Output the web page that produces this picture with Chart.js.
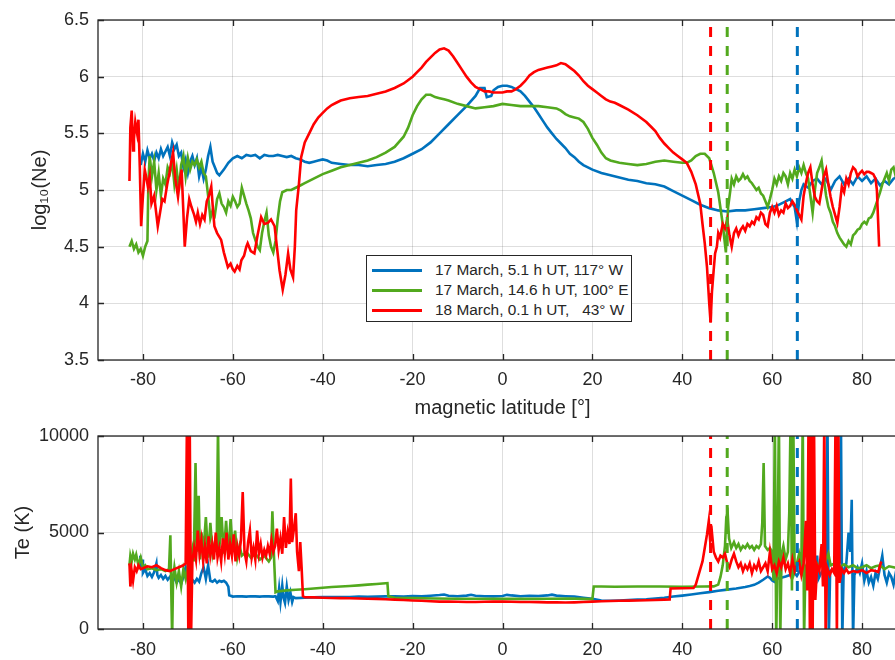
<!DOCTYPE html>
<html>
<head>
<meta charset="utf-8">
<script src="https://cdn.jsdelivr.net/npm/chart.js@4/dist/chart.umd.min.js"></script>
<style>
html,body{margin:0;padding:0;background:#fff;overflow:hidden;width:895px;height:660px;}
#wrap{position:relative;width:895px;height:660px;overflow:hidden;background:#fff;}
#c1{position:absolute;left:0;top:0;}
#c2{position:absolute;left:0;top:425px;}
#legend{position:absolute;left:366px;top:255px;width:264px;height:65px;border:1px solid #262626;background:#fff;
  font-family:"Liberation Sans",Arial,sans-serif;font-size:15.4px;color:#262626;}
#legend .row{position:absolute;left:0;height:20px;width:100%;}
#legend .sw{position:absolute;left:5px;top:9px;width:50px;height:3px;}
#legend .tx{position:absolute;left:68px;top:1px;white-space:pre;line-height:18px;}
</style>
</head>
<body>
<div id="wrap">
<canvas id="c1" width="920" height="425"></canvas>
<canvas id="c2" width="920" height="235"></canvas>
<div id="legend"></div>
</div>
<script>
// ---------- tick labels ----------
const xTicks = [-80, -60, -40, -20, 0, 20, 40, 60, 80];
const neTicks = [3.5, 4, 4.5, 5, 5.5, 6, 6.5];
const teTicks = [0, 5000, 10000];

// ---------- series names ----------
const seriesNames = ['17 March, 5.1 h UT, 117° W', '17 March, 14.6 h UT, 100° E', '18 March, 0.1 h UT,   43° W'];
// boundary latitudes (dashed lines): blue, green, red
const boundaryLat = [65.6, 50.0, 46.3];

// ---------- log10(Ne) : 17 March 5.1 h UT (blue) ----------
const latNeBlue = [-80.5,-80,-79.5,-79,-78.5,-78,-77.5,-77,-76.5,-76,-75.5,-75,-74.5,-74,-73.5,-73,-72.5,-72,-71.5,-71,-70.5,-70,-69.5,-69,-68.5,-68,-67.5,-67,-66.5,-66,-65.5,-65,-64.5,-64,-63.5,-63,-62,-61,-60,-59,-58,-57,-56,-55,-54,-53,-52,-51,-50,-49,-48,-47,-46,-45,-44,-43,-42,-41,-40,-39,-38,-36,-34,-32,-30,-28,-26,-24,-22,-20,-18,-16,-14,-12,-10,-8,-6,-5,-4,-3.5,-2.5,-2,-1,0,1,2,3,4,5,6,7,8,9,10,11,12,13,14,15,16,17,18,19,20,22,24,26,28,30,32,34,36,38,40,42,44,46,48,50,52,54,56,58,60,61,62,63,64,65,65.5,66,66.5,67,68,69,70,71,72,73,74,75,76,77,78,79,80,81,82,83,84,85,86,87,88];
const neBlue = [5.22,5.32,5.25,5.35,5.28,5.32,5.26,5.33,5.28,5.36,5.3,5.34,5.38,5.3,5.42,5.36,5.4,5.3,5.33,5.2,5.27,5.15,5.25,5.3,5.22,5.28,5.12,5.2,5.1,5.18,5.3,5.38,5.25,5.2,5.15,5.13,5.18,5.24,5.28,5.3,5.28,5.31,5.3,5.31,5.28,5.31,5.3,5.3,5.31,5.3,5.29,5.3,5.28,5.27,5.25,5.24,5.25,5.26,5.27,5.26,5.24,5.23,5.22,5.22,5.21,5.22,5.23,5.25,5.28,5.32,5.36,5.42,5.5,5.58,5.66,5.74,5.83,5.9,5.9,5.82,5.83,5.88,5.91,5.92,5.92,5.91,5.89,5.87,5.83,5.78,5.73,5.67,5.61,5.55,5.5,5.45,5.41,5.37,5.32,5.29,5.25,5.22,5.2,5.18,5.15,5.13,5.11,5.09,5.08,5.06,5.05,5.03,4.99,4.95,4.91,4.87,4.84,4.82,4.81,4.82,4.82,4.83,4.84,4.85,4.86,4.88,4.9,4.92,4.85,4.72,4.9,5.0,5.05,5.02,5.08,5.1,5.05,5.1,5.0,5.08,5.12,5.05,5.1,5.05,5.12,5.08,5.12,5.06,5.1,5.04,5.08,5.05,5.1,5.12];

// ---------- log10(Ne) : 17 March 14.6 h UT (green) ----------
const latNeGreen = [-83,-82.5,-82,-81.5,-81,-80.5,-80,-79.5,-79,-78.8,-78.5,-78,-77.5,-77,-76.5,-76,-75.5,-75,-74.5,-74,-73.5,-73,-72.5,-72,-71.5,-71,-70.5,-70,-69.5,-69,-68.5,-68,-67.5,-67,-66.5,-66,-65.5,-65,-64.5,-64,-63.5,-63,-62.5,-62,-61.5,-61,-60.5,-60,-59.5,-59,-58.5,-58,-57.5,-57,-56.5,-56,-55.5,-55,-54.5,-54,-53.5,-53,-52.5,-52,-51.5,-51,-50.5,-50,-49.5,-49,-48,-47,-46,-45,-44,-42,-40,-38,-36,-34,-32,-30,-28,-26,-24,-22,-21,-20,-19,-18,-17,-16,-15,-14,-13,-12,-10,-8,-6,-4,-2,0,2,4,6,8,10,12,13,14,15,16,17,18,19,20,21,22,23,24,26,28,30,32,34,36,38,40,41,42,43,44,45,46,47,48,49,49.7,50.2,50.7,51,51.5,52,52.5,53,53.5,54,54.5,55,55.5,56,56.5,57,57.5,58,58.5,59,59.5,60,60.5,61,61.5,62,62.5,63,63.5,64,64.5,65,65.5,66,66.5,67,67.5,68,68.5,69,69.5,70,70.5,71,71.5,72,72.5,73,73.5,74,74.5,75,75.5,76,76.5,77,77.5,78,78.5,79,79.5,80,80.5,81,81.5,82,82.5,83,83.5,84,84.5,85,85.5,86,86.5,87,87.5,88];
const neGreen = [4.5,4.55,4.48,4.52,4.45,4.48,4.42,4.5,4.55,5.05,5.3,5.12,5.25,5.0,5.15,4.95,5.1,5.05,5.2,5.15,5.25,5.05,5.18,5.0,5.22,5.3,5.12,5.28,5.18,5.25,5.22,5.27,5.2,5.25,5.15,5.12,4.95,4.75,4.82,4.78,4.92,4.97,4.88,4.85,4.8,4.9,4.86,4.94,4.9,4.85,4.88,5.02,4.95,4.88,4.82,4.75,4.62,4.56,4.5,4.47,4.62,4.72,4.8,4.6,4.5,4.45,4.55,4.75,4.9,4.98,5.0,5.0,5.02,5.04,5.06,5.1,5.14,5.17,5.2,5.22,5.24,5.26,5.29,5.33,5.38,5.47,5.55,5.66,5.74,5.8,5.84,5.84,5.82,5.81,5.8,5.79,5.76,5.74,5.72,5.73,5.74,5.76,5.75,5.74,5.74,5.74,5.73,5.72,5.7,5.67,5.65,5.64,5.63,5.6,5.54,5.46,5.4,5.33,5.28,5.26,5.24,5.23,5.22,5.23,5.25,5.26,5.25,5.24,5.24,5.26,5.3,5.32,5.32,5.28,5.15,4.98,4.7,4.45,4.85,5.0,5.1,5.05,5.12,5.08,5.1,5.14,5.1,5.12,5.08,5.06,5.03,5.0,5.02,4.97,4.95,4.9,4.85,4.92,5.0,5.1,5.05,5.12,5.08,5.15,5.12,5.05,5.15,5.1,5.18,5.12,5.2,5.15,5.22,5.15,5.1,4.95,4.8,5.0,5.15,5.2,5.26,5.1,4.95,4.85,4.8,4.72,4.68,4.62,4.58,4.55,4.52,4.5,4.55,4.52,4.6,4.62,4.65,4.66,4.7,4.72,4.7,4.75,4.76,4.8,4.86,4.92,4.98,5.05,5.1,5.15,5.08,5.18,5.2,5.12,5.18];

// ---------- log10(Ne) : 18 March 0.1 h UT (red) ----------
const latNeRed = [-83,-82.8,-82.5,-82.2,-82,-81.7,-81.3,-81,-80.7,-80.4,-80,-79.6,-79.2,-78.9,-78.5,-78.1,-77.5,-77,-76.7,-76.2,-75.7,-75.2,-74.6,-74.1,-73.7,-73.3,-72.8,-72.2,-71.8,-71.4,-71,-70.7,-70.2,-69.7,-69.2,-68.6,-68.2,-67.8,-67.3,-66.8,-66.3,-65.8,-65.3,-64.8,-64.4,-64.1,-63.5,-62.6,-62,-61.1,-60.5,-60,-59.6,-59,-58.5,-58.1,-57.5,-57,-56.7,-56,-55.2,-54.5,-53.7,-53,-52.2,-51.5,-50.7,-50.2,-49.6,-48.9,-48.3,-47.7,-47.2,-46.6,-46.2,-45.9,-45.3,-44.8,-44,-43,-42,-41,-40,-39,-38,-37,-36,-34,-32,-30,-28,-26,-24,-22,-20,-19,-18,-17,-16,-15,-14,-13,-12,-11,-10,-9,-8,-7,-6,-5,-4,-3,-2,-1,0,1,2,3,4,5,6,7,8,9,10,11,12,13,14,15,16,17,18,19,20,21,22,23,24,25,26,28,30,32,33,34,35,36,37,38,39,40,41,42,43,44,44.5,45,45.5,46,46.3,46.6,47,47.3,47.7,48,48.4,49,49.5,50,50.5,51,51.5,52,52.5,53,53.5,54,54.5,55,55.5,56,56.5,57,57.5,58,58.5,59,59.5,60,60.5,61,61.5,62,62.5,63,63.5,64,64.5,65,65.5,66,66.5,67,67.5,68,68.5,69,69.5,70,70.5,71,71.5,72,72.5,73,73.5,74,74.5,75,75.5,76,76.5,77,77.5,78,78.5,79,79.5,80,80.5,81,81.5,82,82.5,83,83.3,83.6,83.8];
const neRed = [5.08,5.55,5.7,5.35,5.45,5.6,5.5,5.62,5.2,4.68,4.95,5.18,5.1,5.03,5.12,4.88,4.95,4.78,4.68,4.8,4.92,4.9,5.05,5.15,5.25,5.33,5.1,4.94,5.08,5.18,4.8,4.5,4.75,4.92,4.85,4.78,4.72,4.8,4.7,4.78,4.74,4.9,4.95,5.03,4.82,4.68,4.62,4.56,4.45,4.32,4.35,4.3,4.28,4.33,4.3,4.38,4.42,4.5,4.53,4.46,4.44,4.6,4.76,4.7,4.71,4.74,4.68,4.5,4.29,4.12,4.25,4.44,4.3,4.23,4.5,4.82,5.05,5.29,5.42,5.5,5.58,5.64,5.68,5.72,5.75,5.77,5.79,5.81,5.82,5.83,5.85,5.87,5.9,5.94,6.0,6.04,6.08,6.13,6.17,6.21,6.24,6.25,6.23,6.18,6.12,6.06,6.0,5.95,5.91,5.89,5.87,5.87,5.86,5.86,5.86,5.87,5.87,5.89,5.92,5.96,6.01,6.04,6.06,6.07,6.08,6.09,6.1,6.12,6.11,6.08,6.05,6.01,5.96,5.92,5.89,5.86,5.83,5.8,5.78,5.77,5.75,5.71,5.66,5.6,5.56,5.52,5.46,5.41,5.37,5.33,5.3,5.27,5.24,5.16,5.05,4.88,4.7,4.53,4.32,4.0,3.83,4.1,4.3,4.44,4.5,4.62,4.58,4.7,4.66,4.74,4.6,4.5,4.62,4.66,4.6,4.65,4.68,4.64,4.7,4.68,4.72,4.7,4.76,4.74,4.8,4.78,4.7,4.68,4.8,4.85,4.8,4.86,4.78,4.82,4.8,4.88,4.84,4.86,4.9,4.87,4.82,4.78,4.74,4.95,5.06,5.15,5.2,5.05,4.94,4.9,4.88,5.0,5.12,5.18,5.05,4.94,4.85,4.78,4.71,4.85,5.03,4.98,5.1,5.05,5.15,5.2,5.18,5.12,5.15,5.17,5.14,5.16,5.16,5.15,5.14,5.1,5.0,4.7,4.5];

// ---------- Te : blue ----------
const latTeBlue = [-80.6,-80.4,-80.2,-80,-79.5,-79,-78.5,-78,-77.5,-77,-76.8,-76.5,-76,-75.5,-75,-74.5,-74,-73.5,-73,-72.5,-72,-71.5,-71,-70.5,-70,-69.5,-69,-68.5,-68,-67.5,-67,-66.5,-66,-65.5,-65,-64.5,-64,-63.5,-63,-62.5,-62,-61.5,-61,-60.8,-60,-59,-58,-57,-56,-55,-54,-53,-52,-51,-50.5,-50,-49.7,-49.4,-49,-48.7,-48.4,-48,-47.6,-47.2,-46.8,-46.5,-46,-44,-42,-40,-38,-36,-34,-32,-30,-28,-26,-24,-22,-20,-18,-16,-14,-13,-12,-10,-8,-7,-6,-4,-2,0,1,2,4,6,8,10,11,12,14,16,18,20,22,24,26,28,30,32,34,36,38,40,42,44,46,48,50,52,54,55,56,57,58,59,59.5,60,60.5,61,62,63,64,65,65.5,66,66.5,67,67.5,68,68.5,69,69.5,70,70.3,71,71.5,72,72.3,72.6,72.9,73.5,74,74.5,75,75.3,75.6,75.9,76.5,77,77.4,77.7,78,78.3,79,79.5,80,80.5,81,81.5,82,82.5,83,83.5,84,84.5,85,85.5,86,86.5,87,87.5,88];
const teBlue = [3800,3200,3600,2900,3100,2750,2900,2700,2950,3400,2800,2650,2800,2600,2750,2550,2700,2500,2650,2400,2600,2350,2700,3200,2500,2300,2550,2400,2600,2450,2900,3200,2600,3300,2500,2450,2550,2400,2500,2450,2500,2400,2200,1750,1680,1700,1690,1680,1700,1690,1680,1700,1690,1680,1700,1450,2100,1400,2250,1600,1350,2200,1500,1900,1400,1650,1600,1620,1640,1650,1660,1650,1660,1680,1670,1680,1690,1700,1680,1710,1690,1720,1760,1790,1720,1700,1730,1770,1720,1700,1690,1710,1770,1740,1700,1720,1710,1740,1780,1730,1700,1680,1620,1560,1480,1460,1480,1500,1520,1540,1580,1620,1680,1730,1790,1850,1910,1980,2040,2100,2180,2230,2290,2400,2550,2720,2650,2520,2450,2600,2650,2720,2800,2900,2750,2950,3100,2900,3050,3300,2800,3100,2900,3800,2600,2950,3100,2800,11000,-500,3000,3100,2900,3200,3500,11000,-500,3000,3400,5000,4000,6700,-500,2800,3200,2900,3400,2500,3000,2400,2700,2250,2900,2600,3200,3800,2800,2400,2900,2700,2300,2900,2600];

// ---------- Te : green ----------
const latTeGreen = [-83,-82.8,-82.5,-82.2,-81.8,-81.5,-81,-80.5,-80,-79.5,-79,-78,-77,-76,-75,-74.2,-73.9,-73.7,-73.5,-73.3,-73,-72.5,-72,-71.5,-71,-70.5,-70,-69.5,-69,-68.7,-68.3,-68,-67.6,-67.3,-67,-66.5,-66,-65.5,-65,-64.5,-64,-63.6,-63.3,-63,-62.5,-62,-61.5,-61,-60.5,-60,-59.5,-59,-58.5,-58,-57,-56,-55,-54,-53,-52,-51.5,-51.2,-50.8,-50.5,-50,-48,-46,-44,-42,-40,-38,-36,-34,-32,-30,-28,-26,-25.6,-25.4,-24,-20,-15,-10,-5,0,5,10,15,18,20,20.3,22,25,30,35,40,45,47,48,48.5,49,49.5,49.8,50.1,50.4,50.9,51.5,52,52.5,53,53.5,54,54.5,55,55.5,56,56.5,57,57.5,57.8,58.1,58.4,59,59.5,60,60.3,60.6,60.9,61.2,61.5,61.8,62.1,62.5,63,63.5,63.8,64.1,64.4,64.7,65,65.5,66,66.5,66.8,67.1,67.4,68,68.5,69,69.5,70,70.5,71,71.5,72,72.5,73,74,75,76,77,78,79,80,81,82,83,84,85,86,87,88];
const teGreen = [3300,3800,3500,3900,3600,3850,3300,3700,3200,3300,3100,3150,3050,3100,3000,3100,4850,2000,-500,2600,3200,2400,3000,2200,3100,2600,3300,3700,4200,3500,8600,4000,6900,3600,5000,4100,5800,3700,5500,3900,4500,4000,10500,4200,5800,3900,5600,3800,5700,4000,5100,3700,4300,3800,4000,3700,3900,3600,3800,3500,3700,6100,3500,1900,1950,2000,2030,2060,2100,2140,2180,2200,2230,2260,2300,2330,2370,2380,1700,1620,1600,1580,1570,1570,1560,1560,1570,1580,1560,1550,2200,2200,2190,2200,2200,2190,2200,2210,2300,2700,3300,4300,5800,6000,4700,4200,4500,4200,4400,4100,4300,4200,4400,4200,4300,4100,4300,4200,4400,5500,8600,4300,4100,4200,4000,2500,11000,-500,4000,11000,-500,3900,4300,3600,4000,6000,11000,2000,11000,3000,3400,3900,3300,11000,-500,3200,3500,3200,3600,3300,3400,3200,3500,3300,3600,3900,3300,3400,3200,3350,3200,3300,3150,3200,3300,3150,3250,3300,3100,3250,3200,3150];

// ---------- Te : red ----------
const latTeRed = [-83,-82.8,-82.5,-82.2,-81.8,-81.4,-81,-80.5,-80,-79,-78,-77,-76,-75,-74,-73,-72,-71,-70.5,-70.2,-69.9,-69.6,-69.3,-69,-68.6,-68.2,-67.8,-67.4,-67,-66.6,-66.2,-65.8,-65.4,-65,-64.6,-64.2,-63.8,-63.4,-63,-62.6,-62.2,-61.8,-61.4,-61,-60.6,-60.2,-59.8,-59.4,-59,-58.6,-58.2,-57.8,-57.4,-57,-56.6,-56.2,-55.8,-55.4,-55,-54.6,-54.2,-53.8,-53.4,-53,-52.6,-52.2,-51.8,-51.4,-51,-50.6,-50.2,-49.8,-49.4,-49,-48.6,-48.2,-47.8,-47.4,-47.1,-46.8,-46.4,-46,-45.7,-45.3,-45,-44.7,-44.4,-44,-42,-40,-38,-36,-34,-32,-30,-28,-26,-24,-22,-20,-18,-16,-14,-12,-10,-8,-6,-4,-2,0,2,4,6,8,10,12,14,16,18,20,22,24,26,28,30,32,34,36,37.2,37.4,40,42.5,43,43.5,44,44.5,45,45.5,45.9,46.2,46.6,47,47.5,48,48.5,49,49.5,50,50.5,51,51.5,52,52.5,53,53.5,54,54.5,55,55.5,56,56.5,57,57.5,58,58.5,59,59.5,60,60.5,61,61.5,62,62.5,63,63.5,64,64.5,65,65.5,66,66.5,67,67.5,67.8,68.1,68.4,68.7,69,69.3,69.6,70,70.5,71,71.3,71.6,71.9,72.2,72.8,73.3,73.8,74.1,74.4,74.7,75,75.5,76,76.5,77,78,79,80,81,82,83,83.6,84,84.3];
const teRed = [3400,2200,3000,2500,3200,3000,3300,3100,3150,3250,3200,3300,3150,3050,3000,3100,3200,3300,3400,11000,-500,11000,-500,3500,4200,3600,5100,3900,4600,3500,4300,3400,4800,3800,4400,3600,5000,3700,4200,3500,4700,3900,5000,3600,4400,3800,4900,3500,4300,3800,4600,7100,4000,3500,4500,5100,3700,4200,3600,5100,3900,4400,3700,4100,3800,4300,3900,4600,4000,4300,5200,4100,4700,3900,5800,4200,5000,4400,7800,4500,5200,6000,4000,3000,4500,3200,1700,1650,1640,1620,1610,1600,1590,1580,1570,1560,1540,1520,1500,1480,1460,1440,1420,1420,1410,1400,1400,1410,1420,1420,1410,1400,1400,1390,1380,1380,1370,1380,1400,1420,1440,1450,1460,1470,1480,1490,1500,1520,1530,2100,2110,2120,2300,2700,3100,3500,4200,4900,5600,4600,5000,4000,3700,3500,3800,3700,3900,3400,3200,3600,3900,3500,3200,3400,3000,3300,3100,3400,2900,3300,3100,3500,3000,3200,3400,3000,4000,3100,3300,2900,3500,3200,3700,3100,3400,2900,3600,3000,3300,3500,2800,3400,5600,2000,11000,-500,11000,-500,11000,1500,3300,3000,4400,2200,11000,-500,3200,2800,3100,2900,11000,-500,11000,2400,3100,2900,3100,2900,3000,2950,3050,2900,3050,3000,2950,3300,3500];

// ---------- styling ----------
const FONT = '"Liberation Sans", Arial, Helvetica, sans-serif';
const TXT = '#262626';
const COLORS = ['#0072BD', '#52A91E', '#FF0000'];
const GRID = 'rgba(0,0,0,0.13)';

function pts(lat, val) { return lat.map((x, i) => ({ x: x, y: val[i] })); }

function seriesDs(lat, val, color, order) {
  return { data: pts(lat, val), borderColor: color, backgroundColor: color, borderWidth: 2.6,
           pointRadius: 0, tension: 0, fill: false, clip: 0, order: order };
}
function dashDs(x, y0, y1, color) {
  return { data: [{ x: x, y: y0 }, { x: x, y: y1 }], borderColor: color, borderWidth: 3,
           borderDash: [10, 9], pointRadius: 0, fill: false, clip: 0, order: 0 };
}

const boxPlugin = {
  id: 'box',
  afterDraw(chart) {
    const { ctx, chartArea: a, scales } = chart;
    const xs = scales.x, ys = scales.y;
    ctx.save();
    ctx.strokeStyle = TXT; ctx.lineWidth = 1.3;
    ctx.strokeRect(a.left, a.top, a.right - a.left, a.bottom - a.top);
    ctx.beginPath();
    xs.ticks.forEach(t => {
      const p = Math.round(xs.getPixelForValue(t.value)) + 0.5;
      ctx.moveTo(p, a.bottom); ctx.lineTo(p, a.bottom - 6);
      ctx.moveTo(p, a.top); ctx.lineTo(p, a.top + 6);
    });
    ys.ticks.forEach(t => {
      const p = Math.round(ys.getPixelForValue(t.value)) + 0.5;
      ctx.moveTo(a.left, p); ctx.lineTo(a.left + 6, p);
      ctx.moveTo(a.right, p); ctx.lineTo(a.right - 6, p);
    });
    ctx.stroke();
    ctx.restore();
  }
};

function xScale(withTitle, height) {
  return {
    type: 'linear', min: -90, max: 90,
    afterBuildTicks: s => { s.ticks = xTicks.map(v => ({ value: v })); },
    afterFit: s => { s.height = height; s.paddingLeft = 0; s.paddingRight = 0; },
    grid: { color: GRID, lineWidth: 1, drawTicks: false },
    border: { display: false },
    ticks: { padding: withTitle ? 9 : 10, color: TXT, font: { family: FONT, size: 18 },
             maxRotation: 0, autoSkip: false, callback: v => String(v) },
    title: { display: withTitle, text: 'magnetic latitude [°]', color: TXT,
             font: { family: FONT, size: 20 }, padding: { top: 0, bottom: 5 } }
  };
}
function yScale(min, max, ticks, title, titlePad) {
  return {
    type: 'linear', min: min, max: max,
    afterBuildTicks: s => { s.ticks = ticks.map(v => ({ value: v })); },
    afterFit: s => { s.width = 98; s.paddingTop = 0; s.paddingBottom = 0; },
    grid: { color: GRID, lineWidth: 1, drawTicks: false },
    border: { display: false },
    ticks: { padding: 9, color: TXT, font: { family: FONT, size: 18 }, autoSkip: false, callback: v => String(v) },
    title: { display: true, text: title, color: TXT, font: { family: FONT, size: 20 },
             padding: { top: titlePad, bottom: 0 } }
  };
}

const common = {
  responsive: false, animation: false, devicePixelRatio: 1,
  plugins: { legend: { display: false }, tooltip: { enabled: false } },
  events: []
};

new Chart(document.getElementById('c1'), {
  type: 'line',
  data: { datasets: [
    dashDs(boundaryLat[0], neTicks[0], neTicks[neTicks.length - 1], COLORS[0]),
    dashDs(boundaryLat[1], neTicks[0], neTicks[neTicks.length - 1], COLORS[1]),
    dashDs(boundaryLat[2], neTicks[0], neTicks[neTicks.length - 1], COLORS[2]),
    seriesDs(latNeRed, neRed, COLORS[2], 1),
    seriesDs(latNeGreen, neGreen, COLORS[1], 2),
    seriesDs(latNeBlue, neBlue, COLORS[0], 3)
  ] },
  options: Object.assign({}, common, {
    layout: { padding: { left: 0, right: 13, top: 20, bottom: 0 } },
    scales: { x: xScale(true, 65), y: yScale(3.5, 6.5, neTicks, 'log\u2081\u2080(Ne)', 28) }
  }),
  plugins: [boxPlugin]
});

new Chart(document.getElementById('c2'), {
  type: 'line',
  data: { datasets: [
    dashDs(boundaryLat[0], teTicks[0], teTicks[teTicks.length - 1], COLORS[0]),
    dashDs(boundaryLat[1], teTicks[0], teTicks[teTicks.length - 1], COLORS[1]),
    dashDs(boundaryLat[2], teTicks[0], teTicks[teTicks.length - 1], COLORS[2]),
    seriesDs(latTeRed, teRed, COLORS[2], 1),
    seriesDs(latTeGreen, teGreen, COLORS[1], 2),
    seriesDs(latTeBlue, teBlue, COLORS[0], 3)
  ] },
  options: Object.assign({}, common, {
    layout: { padding: { left: 0, right: 13, top: 11, bottom: 0 } },
    scales: { x: xScale(false, 31), y: yScale(0, 10000, teTicks, 'Te (K)', 11) }
  }),
  plugins: [boxPlugin]
});

// legend (HTML, overlaid like the reference)
const leg = document.getElementById('legend');
seriesNames.forEach((name, i) => {
  const row = document.createElement('div');
  row.className = 'row';
  row.style.top = (4 + i * 20) + 'px';
  const sw = document.createElement('span');
  sw.className = 'sw'; sw.style.background = COLORS[i];
  const tx = document.createElement('span');
  tx.className = 'tx'; tx.textContent = name;
  row.appendChild(sw); row.appendChild(tx);
  leg.appendChild(row);
});
</script>
</body>
</html>
